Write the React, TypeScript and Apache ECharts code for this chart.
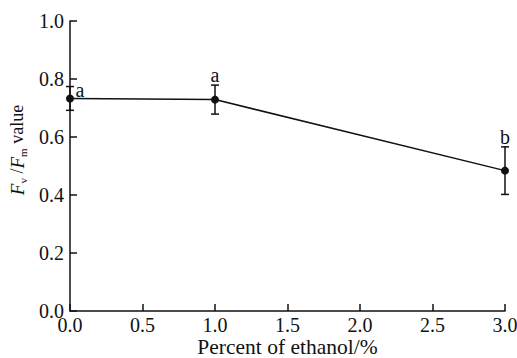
import React, { useEffect, useRef } from "react";
import * as echarts from "echarts";

const xValues = [0, 1, 3];
const means = [0.733, 0.729, 0.484];
const errors = [0.041, 0.05, 0.082];
const letters = ["a", "a", "b"];
const xTicks = { min: 0, max: 3, interval: 0.5 };
const yTicks = { min: 0, max: 1, interval: 0.2 };

const FONT = "Liberation Serif";

export default function App() {
  const ref = useRef<HTMLDivElement>(null);
  useEffect(() => {
    if (!ref.current) return;
    const chart = echarts.init(ref.current, undefined, { renderer: "svg" });
    const lineData = xValues.map((x, i) => [x, means[i]]);
    const errData = xValues.map((x, i) => [x, means[i], errors[i], i]);
    chart.setOption({
      animation: false,
      backgroundColor: "#fff",
      textStyle: { fontFamily: FONT },
      grid: { left: 70, right: 12, top: 21, bottom: 47, containLabel: false, outerBoundsMode: "none" },
      xAxis: {
        type: "value",
        min: xTicks.min,
        max: xTicks.max,
        interval: xTicks.interval,
        name: "Percent of ethanol/%",
        nameLocation: "middle",
        nameGap: 25,
        nameMoveOverlap: false,
        nameTextStyle: { fontFamily: FONT, fontSize: 21.5, color: "#111" },
        axisLine: { show: true, lineStyle: { color: "#111", width: 1.5 } },
        axisTick: { show: true, inside: true, length: 7, lineStyle: { color: "#111", width: 1.5 } },
        axisLabel: {
          fontFamily: FONT,
          fontSize: 20,
          lineHeight: 16,
          color: "#111",
          margin: 6,
          formatter: (v: number) => v.toFixed(1),
        },
        splitLine: { show: false },
      },
      yAxis: {
        type: "value",
        min: yTicks.min,
        max: yTicks.max,
        interval: yTicks.interval,
        name: "{i|F}{s|v} {n|/}{i|F}{s|m} {n|value}",
        nameLocation: "middle",
        nameGap: 42,
        nameRotate: 90,
        nameMoveOverlap: false,
        nameTextStyle: {
          fontFamily: FONT,
          fontSize: 18,
          color: "#111",
          padding: [0, 0, 0, 32],
          rich: {
            i: { fontFamily: FONT, fontSize: 19, fontStyle: "italic", color: "#111", lineHeight: 22, verticalAlign: "middle" },
            s: { fontFamily: FONT, fontSize: 11, color: "#111", lineHeight: 22, verticalAlign: "bottom", padding: [5, 0, 0, 0] },
            n: { fontFamily: FONT, fontSize: 18, color: "#111", lineHeight: 22, verticalAlign: "middle" },
          },
        },
        axisLine: { show: true, lineStyle: { color: "#111", width: 1.5 } },
        axisTick: { show: true, inside: true, length: 7, lineStyle: { color: "#111", width: 1.5 } },
        axisLabel: {
          fontFamily: FONT,
          fontSize: 20,
          lineHeight: 16,
          color: "#111",
          margin: 6,
          formatter: (v: number) => v.toFixed(1),
        },
        splitLine: { show: false },
      },
      series: [
        {
          type: "line",
          data: lineData,
          symbol: "circle",
          symbolSize: 8,
          lineStyle: { color: "#111", width: 1.5 },
          itemStyle: { color: "#111" },
          z: 3,
        },
        {
          type: "custom",
          data: errData,
          z: 4,
          renderItem: (params: any, api: any) => {
            const x = api.value(0);
            const m = api.value(1);
            const e = api.value(2);
            const idx = api.value(3);
            const top = api.coord([x, m + e]);
            const bot = api.coord([x, m - e]);
            const mid = api.coord([x, m]);
            const cap = 4;
            const style = { stroke: "#111", lineWidth: 1.5 };
            const labelPos = idx === 0 ? [mid[0] + 10, mid[1] - 8] : [top[0], top[1] - 10];
            return {
              type: "group",
              children: [
                { type: "line", shape: { x1: top[0], y1: top[1], x2: bot[0], y2: bot[1] }, style },
                { type: "line", shape: { x1: top[0] - cap, y1: top[1], x2: top[0] + cap, y2: top[1] }, style },
                { type: "line", shape: { x1: bot[0] - cap, y1: bot[1], x2: bot[0] + cap, y2: bot[1] }, style },
                {
                  type: "text",
                  x: labelPos[0],
                  y: labelPos[1],
                  style: {
                    text: letters[idx],
                    fontFamily: FONT,
                    fontSize: 20,
                    fill: "#111",
                    align: "center",
                    verticalAlign: "middle",
                  },
                },
              ],
            };
          },
        },
      ],
    });
    return () => chart.dispose();
  }, []);
  return <div ref={ref} style={{ width: 517, height: 358, position: "absolute", left: 0, top: 0 }} />;
}
